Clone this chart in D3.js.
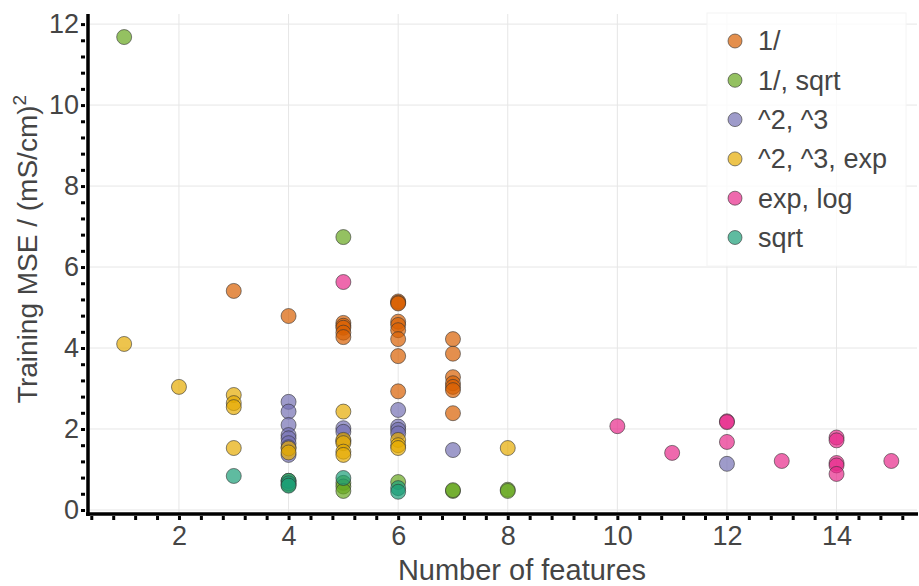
<!DOCTYPE html>
<html>
<head>
<meta charset="utf-8">
<script src="https://cdn.jsdelivr.net/npm/d3@7"></script>
<style>
  body { margin: 0; background: #fff; }
</style>
</head>
<body>
<div id="chart"></div>
<script>
const seriesNames = ["1/", "1/, sqrt", "^2, ^3", "^2, ^3, exp", "exp, log", "sqrt"];
const seriesColors = ["#d95f02", "#66a61e", "#7570b3", "#e6ab02", "#e7298a", "#1b9e77"];

// number of features per point, by series
const invX      = [3, 4, 5, 5, 5, 5, 5, 6, 6, 6, 6, 6, 6, 6, 6, 6, 7, 7, 7, 7, 7, 7, 7];
const invY      = [5.41, 4.79, 4.62, 4.55, 4.50, 4.38, 4.27, 5.15, 5.12, 5.10, 4.65, 4.57, 4.44, 4.22, 3.80, 2.93, 4.22, 3.86, 3.28, 3.13, 3.04, 2.96, 2.39];
const invSqrtX  = [1, 5, 4, 4, 5, 5, 5, 6, 7, 7, 8, 8];
const invSqrtY  = [11.68, 6.74, 0.72, 0.62, 0.67, 0.58, 0.47, 0.69, 0.47, 0.49, 0.50, 0.47];
const powX      = [4, 4, 4, 4, 4, 4, 4, 4, 5, 5, 5, 6, 6, 6, 6, 7, 12];
const powY      = [2.67, 2.43, 2.10, 1.85, 1.77, 1.65, 1.55, 1.36, 2.02, 1.93, 1.70, 2.47, 2.06, 1.98, 1.89, 1.48, 1.14];
const powExpX   = [1, 2, 3, 3, 3, 3, 4, 4, 5, 5, 5, 5, 5, 6, 6, 6, 8];
const powExpY   = [4.10, 3.04, 2.84, 2.64, 2.54, 1.53, 1.52, 1.42, 2.43, 1.73, 1.65, 1.44, 1.36, 1.73, 1.60, 1.53, 1.53];
const expLogX   = [5, 10, 11, 12, 12, 12, 13, 14, 14, 14, 14, 14, 15];
const expLogY   = [5.63, 2.07, 1.41, 2.19, 2.17, 1.68, 1.21, 1.79, 1.72, 1.16, 1.10, 0.89, 1.21];
const sqrtX     = [3, 4, 4, 4, 5, 6, 6];
const sqrtY     = [0.84, 0.72, 0.66, 0.60, 0.79, 0.54, 0.45];

const xTicks = [2, 4, 6, 8, 10, 12, 14];
const yTicks = [0, 2, 4, 6, 8, 10, 12];

const seriesX = [invX, invSqrtX, powX, powExpX, expLogX, sqrtX];
const seriesY = [invY, invSqrtY, powY, powExpY, expLogY, sqrtY];

const points = [];
seriesNames.forEach((name, s) => {
  seriesX[s].forEach((xv, i) => points.push({ s: s, x: xv, y: seriesY[s][i] }));
});

const width = 919, height = 586;
const font = "'Liberation Sans', Arial, sans-serif";
const textColor = "#454545";

const svg = d3.select("#chart").append("svg")
  .attr("width", width)
  .attr("height", height)
  .style("font-family", font);

const x = d3.scaleLinear().domain([0.34, 15.45]).range([88, 916]);
const y = d3.scaleLinear().domain([-0.05, 12.2]).range([512, 16]);

// grid
svg.append("g")
  .selectAll("line.gx")
  .data(xTicks)
  .join("line")
    .attr("x1", d => x(d)).attr("x2", d => x(d))
    .attr("y1", 14).attr("y2", 512)
    .attr("stroke", "#e6e6e6").attr("stroke-width", 1);

svg.append("g")
  .selectAll("line.gy")
  .data(yTicks)
  .join("line")
    .attr("x1", 88).attr("x2", 917)
    .attr("y1", d => y(d)).attr("y2", d => y(d))
    .attr("stroke", "#e6e6e6").attr("stroke-width", 1);

// points
const color = d3.scaleOrdinal().domain(d3.range(seriesNames.length)).range(seriesColors);

svg.append("g")
  .selectAll("circle")
  .data(points)
  .join("circle")
    .attr("cx", d => x(d.x))
    .attr("cy", d => y(d.y))
    .attr("r", 7.5)
    .attr("fill", d => color(d.s))
    .attr("fill-opacity", 0.7)
    .attr("stroke", "#333")
    .attr("stroke-opacity", 0.6)
    .attr("stroke-width", 1);

// minor tick marks (every 0.4)
const xMinor = d3.range(1, 39).map(i => +(i * 0.4).toFixed(1));
const yMinor = d3.range(0, 31).map(i => +(i * 0.4).toFixed(1));

svg.append("g")
  .attr("transform", "translate(0,516)")
  .call(d3.axisBottom(x).tickValues(xMinor).tickSize(4).tickFormat(""))
  .call(g => g.select(".domain").remove())
  .call(g => g.selectAll("line").attr("stroke", "#000").attr("stroke-width", 3));

svg.append("g")
  .attr("transform", "translate(85,0)")
  .call(d3.axisLeft(y).tickValues(yMinor).tickSize(4).tickFormat(""))
  .call(g => g.select(".domain").remove())
  .call(g => g.selectAll("line").attr("stroke", "#000").attr("stroke-width", 3));

// tick labels
svg.append("g")
  .attr("transform", "translate(0,526)")
  .call(d3.axisBottom(x).tickValues(xTicks).tickSize(0).tickPadding(0).tickFormat(d3.format("d")))
  .call(g => g.select(".domain").remove())
  .call(g => g.selectAll("text")
    .attr("fill", textColor)
    .style("font-size", "27px")
    .style("font-family", font));

svg.append("g")
  .attr("transform", "translate(79,0)")
  .call(d3.axisLeft(y).tickValues(yTicks).tickSize(0).tickPadding(0).tickFormat(d3.format("d")))
  .call(g => g.select(".domain").remove())
  .call(g => g.selectAll("text")
    .attr("fill", textColor)
    .style("font-size", "27px")
    .style("font-family", font));

// axis lines
svg.append("line")
  .attr("x1", 86).attr("x2", 918).attr("y1", 514).attr("y2", 514)
  .attr("stroke", "#000").attr("stroke-width", 3.5);
svg.append("line")
  .attr("x1", 88).attr("x2", 88).attr("y1", 14).attr("y2", 516)
  .attr("stroke", "#000").attr("stroke-width", 3.5);

// axis titles
svg.append("text")
  .attr("x", 522).attr("y", 580)
  .attr("text-anchor", "middle")
  .attr("fill", textColor)
  .style("font-size", "29px")
  .text("Number of features");

const yTitle = svg.append("text")
  .attr("transform", "translate(37,249) rotate(-90)")
  .attr("text-anchor", "middle")
  .attr("fill", textColor)
  .style("font-size", "28px");
yTitle.append("tspan").text("Training MSE / (mS/cm)");
yTitle.append("tspan").attr("dy", -11).style("font-size", "19px").text("2");

// legend
const legend = svg.append("g");
legend.append("rect")
  .attr("x", 707).attr("y", 13)
  .attr("width", 199).attr("height", 253)
  .attr("fill", "#fff").attr("fill-opacity", 0.8)
  .attr("stroke", "#f4f4f4");

const rows = legend.selectAll("g.row")
  .data(seriesNames)
  .join("g")
    .attr("class", "row")
    .attr("transform", (d, i) => `translate(735,${41 + i * 39.3})`);

rows.append("circle")
  .attr("r", 7)
  .attr("fill", (d, i) => color(i))
  .attr("fill-opacity", 0.7)
  .attr("stroke", "#333")
  .attr("stroke-opacity", 0.6);

rows.append("text")
  .attr("x", 23)
  .attr("dy", "0.35em")
  .attr("fill", textColor)
  .style("font-size", "27px")
  .text(d => d);
</script>
</body>
</html>
